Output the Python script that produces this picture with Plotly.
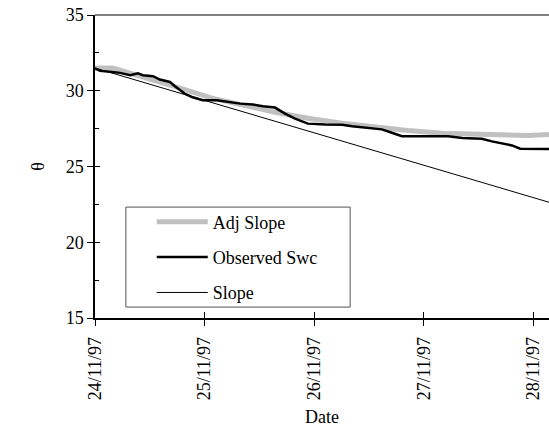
import pandas as pd
import plotly.graph_objects as go

# ---- data (hours after 24/11/97 00:00, soil water content theta) ----
start_date = "1997-11-24"
end_hours = 99.4

adj_hours = [0, 3.9, 18.6, 25.8, 39.4, 46.6, 54.1, 61.3, 68.5, 76.0, 83.2, 90.4, 94.8, 99.4]
adj_theta = [31.5, 31.5, 30.17, 29.5, 28.58, 28.18, 27.85, 27.58, 27.38, 27.19, 27.12, 27.05, 27.05, 27.12]

obs_hours = [0, 1.1, 3.3, 5.5, 7.7, 9.1, 9.4, 10.5, 12.7, 14.2, 15.8, 16.4, 17.5, 18.6,
             19.7, 21.2, 23.6, 26.7, 28.9, 31.8, 34.6, 36.8, 39.4, 41.6, 43.8, 46.6,
             50.4, 54.1, 56.3, 59.8, 62.8, 65.0, 67.2, 72.3, 77.3, 80.4, 84.7, 86.9,
             89.1, 91.3, 93.1, 96.4, 99.4]
obs_theta = [31.47, 31.31, 31.25, 31.18, 31.03, 31.09, 31.15, 31.03, 30.96, 30.74, 30.63,
             30.58, 30.3, 30.03, 29.8, 29.59, 29.37, 29.37, 29.26, 29.15, 29.09, 28.97,
             28.89, 28.49, 28.16, 27.83, 27.78, 27.76, 27.65, 27.56, 27.45, 27.23, 27.0,
             26.99, 26.99, 26.88, 26.83, 26.66, 26.5, 26.39, 26.17, 26.15, 26.15]

slope_hours = [0, 24, 48, 72, 96, 99.4]
slope_theta = [31.5, 29.35, 27.21, 25.07, 22.93, 22.64]

y_ticks = [15, 20, 25, 30, 35]
x_tick_labels = ["24/11/97", "25/11/97", "26/11/97", "27/11/97", "28/11/97"]

base = pd.Timestamp(start_date)
def to_dt(hours):
    return base + pd.to_timedelta(hours, unit="h")

x_tick_vals = [base + pd.Timedelta(days=i) for i in range(len(x_tick_labels))]
x_range = [base, to_dt(end_hours)]

FONT = "Liberation Serif, Times New Roman, serif"

fig = go.Figure()
fig.add_trace(go.Scatter(x=to_dt(adj_hours), y=adj_theta, mode="lines", name="Adj Slope",
                         line=dict(color="#c0c0c0", width=5), legendgroup="a"))
fig.add_trace(go.Scatter(x=to_dt(obs_hours), y=obs_theta, mode="lines", name="Observed Swc",
                         line=dict(color="#000000", width=2.5), legendgroup="b"))
fig.add_trace(go.Scatter(x=to_dt(slope_hours), y=slope_theta, mode="lines", name="Slope",
                         line=dict(color="#000000", width=1), legendgroup="c"))
# dummy trace to carry the overlay axes (inside ticks)
fig.add_trace(go.Scatter(x=[None], y=[None], xaxis="x2", yaxis="y2", showlegend=False,
                         hoverinfo="skip"))

fig.update_layout(
    width=549, height=427,
    margin=dict(l=95, r=0, t=15, b=109),
    paper_bgcolor="white", plot_bgcolor="white",
    font=dict(family=FONT, size=18, color="black"),
    showlegend=True,
    legend=dict(x=0.125, y=0.378, xanchor="left", yanchor="top",
                bgcolor="rgba(0,0,0,0)", borderwidth=0,
                font=dict(family=FONT, size=18, color="black"),
                tracegroupgap=9, traceorder="grouped", itemwidth=51),
    xaxis=dict(type="date", range=x_range, tickvals=x_tick_vals, ticktext=x_tick_labels,
               tickangle=-90, ticks="outside", ticklen=6, tickcolor="black", tickwidth=1,
               ticklabelstandoff=4,
               showgrid=False, zeroline=False, showline=True, linecolor="black", linewidth=1.5,
               tickfont=dict(family=FONT, size=18),
               title=dict(text="Date", font=dict(family=FONT, size=18), standoff=12)),
    yaxis=dict(range=[15, 35], tickvals=y_ticks, ticks="outside", ticklen=6, tickcolor="black",
               tickwidth=1, showgrid=False, zeroline=False, showline=True, linecolor="black",
               linewidth=1.5, tickfont=dict(family=FONT, size=18),
               title=dict(text="θ", font=dict(family=FONT, size=18), standoff=16)),
    xaxis2=dict(type="date", overlaying="x", range=x_range, tickvals=x_tick_vals,
                ticks="inside", ticklen=6, tickcolor="black", tickwidth=1,
                showticklabels=False, showgrid=False, zeroline=False, showline=False),
    yaxis2=dict(overlaying="y", range=[15, 35], tickvals=y_ticks, ticks="inside", ticklen=5,
                tickcolor="black", tickwidth=1, showticklabels=False, showgrid=False,
                zeroline=False, showline=False,
                minor=dict(tickvals=[17.5, 22.5, 27.5, 32.5], ticks="inside", ticklen=4,
                           tickcolor="black", tickwidth=1, showgrid=False)),
    shapes=[
        dict(type="line", xref="paper", yref="paper", x0=0, x1=1, y0=1, y1=1,
             line=dict(color="#808080", width=2)),
        dict(type="rect", xref="paper", yref="paper", x0=0.068, x1=0.562, y0=0.036, y1=0.366,
             line=dict(color="#555555", width=1), fillcolor="rgba(0,0,0,0)"),
    ],
)

fig.write_html("out.html")
